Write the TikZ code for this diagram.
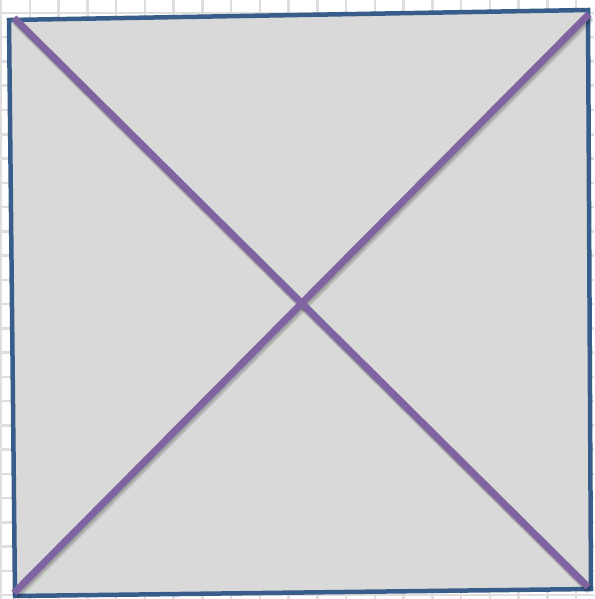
\documentclass[tikz,border=0pt]{standalone}
\usetikzlibrary{calc}
\definecolor{boxblue}{RGB}{56,93,138}
\definecolor{boxfill}{RGB}{217,217,217}
\definecolor{diagpurple}{RGB}{128,100,162}
\definecolor{gridgray}{RGB}{222,222,222}
\tikzset{
  gridline/.style={draw=gridgray, line width=2.5pt},
  boxstyle/.style={draw=boxblue, fill=boxfill, line width=4.5pt, line join=miter},
  diag/.style={draw=diagpurple, line width=7pt},
  diagshadow/.style={draw=black, line width=8pt, opacity=0.07},
}
\begin{document}
\begin{tikzpicture}[x=1pt,y=-1pt]
\useasboundingbox (0,0) rectangle (594,599);
\fill[white] (0,0) rectangle (594,599);
% grid paper
\foreach \gx in {1,29.75,...,594} {\draw[gridline] (\gx,0) -- (\gx,599);}
\foreach \gy in {13,37.25,...,599} {\draw[gridline] (0,\gy) -- (594,\gy);}
% square corners
\coordinate (tl) at (9,20);
\coordinate (tr) at (588,10);
\coordinate (br) at (591,589);
\coordinate (bl) at (15,596);
\draw[boxstyle] (tl) -- (tr) -- (br) -- (bl) -- cycle;
% diagonal end points
\coordinate (d1s) at (14,18);
\coordinate (d1e) at (588,587);
\coordinate (d2s) at (14,593);
\coordinate (d2e) at (589,14);
% shadows
\foreach \o in {1,2,3,4} {
  \draw[diagshadow] ($(d1s)+(\o*0.5,\o)$) -- ($(d1e)+(\o*0.5,\o)$);
  \draw[diagshadow] ($(d2s)+(\o*0.5,\o)$) -- ($(d2e)+(\o*0.5,\o)$);
}
\draw[diag] (d1s) -- (d1e);
\draw[diag] (d2s) -- (d2e);
\end{tikzpicture}
\end{document}
